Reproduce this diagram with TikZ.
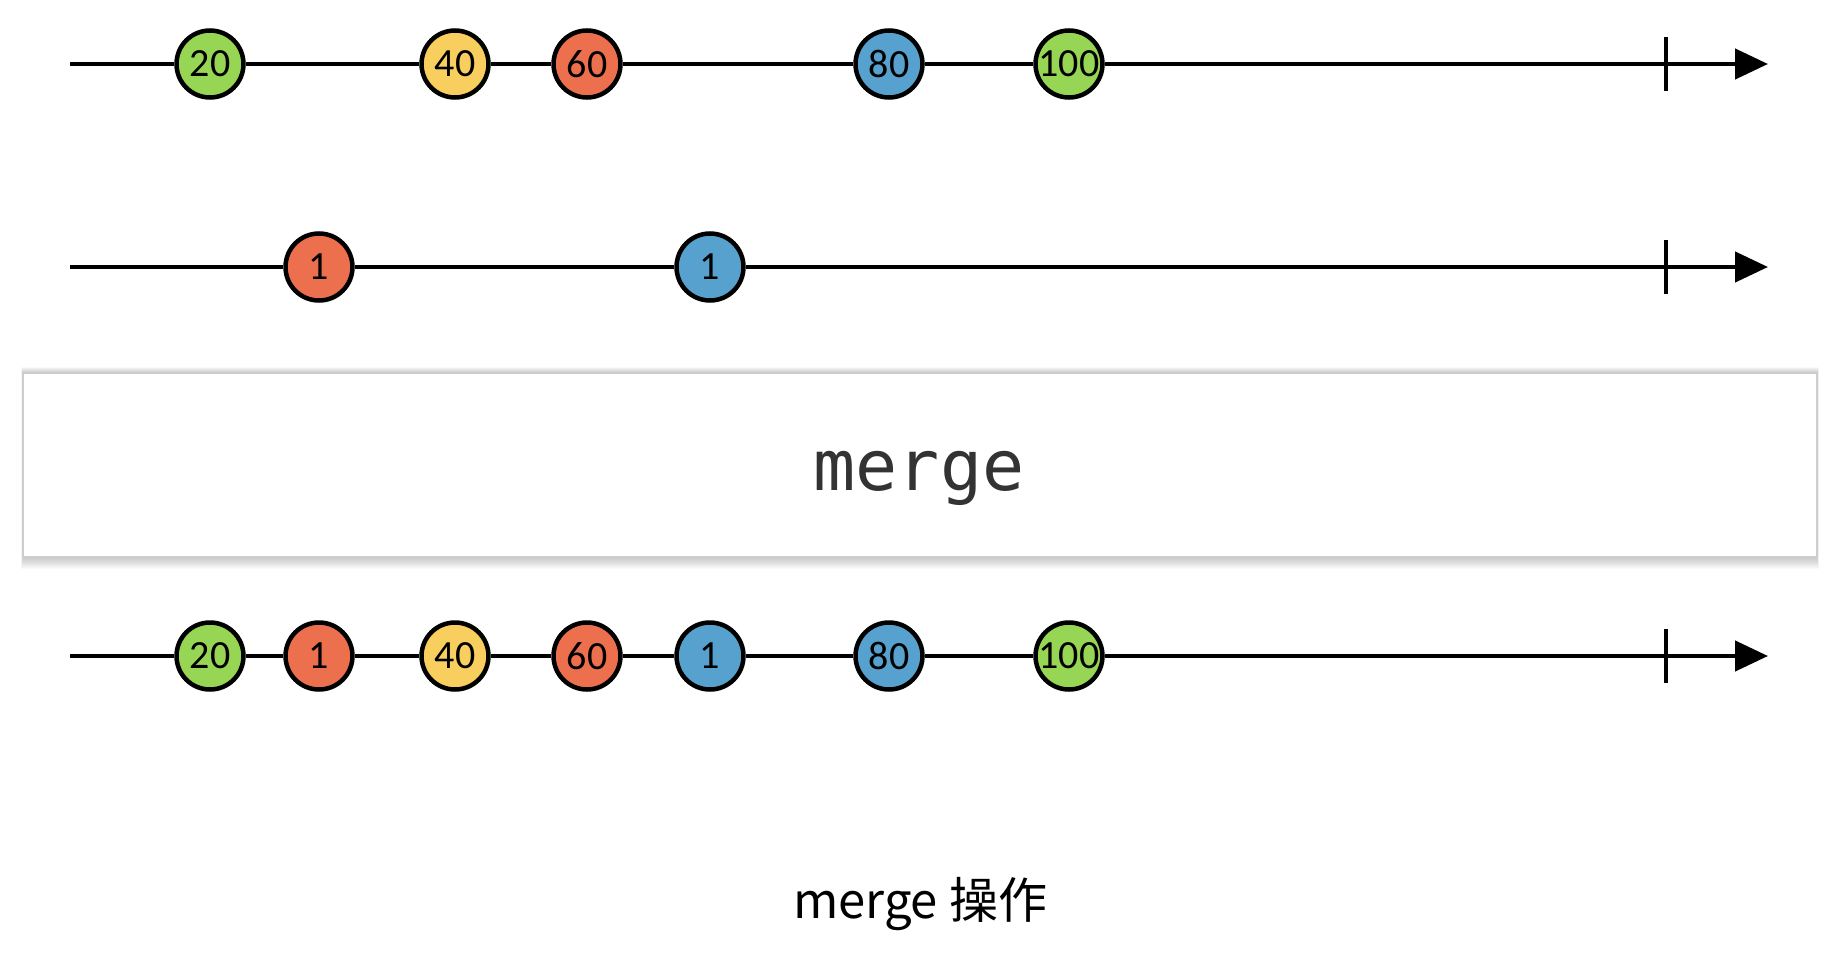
\documentclass[tikz,border=0pt]{standalone}
\usepackage{fontspec}
\newfontfamily\digitfont{Carlito}
\newfontfamily\monofont{DejaVu Sans Mono}
\newfontfamily\cjkfont{Noto Sans CJK SC}
\usetikzlibrary{arrows.meta}
\definecolor{mgreen}{RGB}{150,214,84}
\definecolor{myellow}{RGB}{248,206,94}
\definecolor{mred}{RGB}{236,112,78}
\definecolor{mblue}{RGB}{86,161,205}
\definecolor{boxborder}{RGB}{205,205,205}
\definecolor{optext}{RGB}{51,51,51}
\tikzset{
  marble/.style={circle, draw=black, line width=4.5pt, minimum size=67pt, inner sep=0pt,
    font=\digitfont\fontsize{40}{40}\selectfont, text=black},
  timeline/.style={line width=4.5pt, -{Triangle[length=33pt,width=30pt]}},
  endtick/.style={line width=4.5pt},
  opbox/.style={draw=boxborder, line width=1.5pt, fill=white, minimum width=1794pt, minimum height=184pt,
    inner sep=0pt},
  softshadow/.style={fill=black, opacity=0.018},
}
\begin{document}
\begin{tikzpicture}[x=1pt,y=-1pt]
\useasboundingbox (0,0) rectangle (1834,966);
% row 1
\coordinate (s1) at (70,64);
\coordinate (e1) at (1768,64);
\coordinate (t1a) at (1666,37);
\coordinate (t1b) at (1666,91);
\node[marble, fill=mgreen] (a20) at (210,64) {20};
\node[marble, fill=myellow] (a40) at (455,64) {40};
\node[marble, fill=mred] (a60) at (587,64) {60};
\node[marble, fill=mblue] (a80) at (889,64) {80};
\node[marble, fill=mgreen] (a100) at (1069,64) {100};
\draw[timeline] (s1) -- (a20) -- (a40) -- (a60) -- (a80) -- (a100) -- (e1);
\draw[endtick] (t1a) -- (t1b);
% row 2
\coordinate (s2) at (70,267);
\coordinate (e2) at (1768,267);
\coordinate (t2a) at (1666,240);
\coordinate (t2b) at (1666,294);
\node[marble, fill=mred] (b1) at (319,267) {1};
\node[marble, fill=mblue] (b2) at (710,267) {1};
\draw[timeline] (s2) -- (b1) -- (b2) -- (e2);
\draw[endtick] (t2a) -- (t2b);
% operator box with soft shadow
\foreach \d in {1,...,12} {
  \fill[softshadow] (23-0.15*\d,373-0.5*\d) rectangle (1817+0.15*\d,557+\d);
}
\node[opbox] (op) at (920,465) {};
\node[anchor=base, font=\monofont\fontsize{70}{70}\selectfont, text=optext] (optxt) at (919,490) {merge};
% row 3
\coordinate (s3) at (70,656);
\coordinate (e3) at (1768,656);
\coordinate (t3a) at (1666,629);
\coordinate (t3b) at (1666,683);
\node[marble, fill=mgreen] (c20) at (210,656) {20};
\node[marble, fill=mred] (c1) at (319,656) {1};
\node[marble, fill=myellow] (c40) at (455,656) {40};
\node[marble, fill=mred] (c60) at (587,656) {60};
\node[marble, fill=mblue] (c1b) at (710,656) {1};
\node[marble, fill=mblue] (c80) at (889,656) {80};
\node[marble, fill=mgreen] (c100) at (1069,656) {100};
\draw[timeline] (s3) -- (c20) -- (c1) -- (c40) -- (c60) -- (c1b) -- (c80) -- (c100) -- (e3);
\draw[endtick] (t3a) -- (t3b);
% caption
\node[anchor=base, font=\cjkfont\fontsize{49}{49}\selectfont, text=black] (cap) at (920,918) {merge 操作};
\end{tikzpicture}
\end{document}
